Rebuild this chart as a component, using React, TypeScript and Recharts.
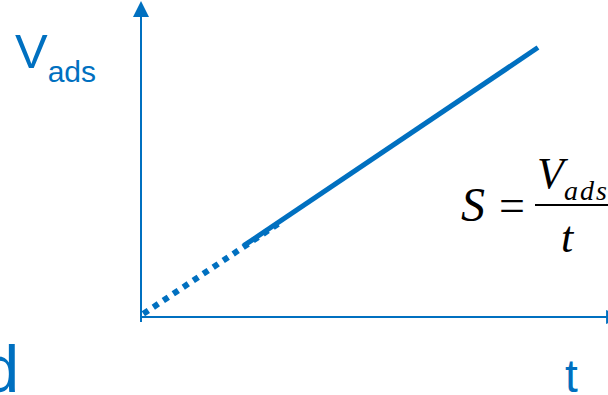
import React from "react";
import { LineChart, Line, XAxis, YAxis, ReferenceLine, ReferenceDot, Customized } from "recharts";

// readings (t and Vads in arbitrary units)
const DOTTED_T = [0.05, 3.0];
const DOTTED_V = [0.1, 3.0];
const SOLID_T = [2.2, 8.5];
const SOLID_V = [2.25, 8.5];

const BLUE = "#0070c0";
const SANS = "'Liberation Sans', Arial, sans-serif";
const SERIF = "'Liberation Serif', 'Times New Roman', serif";

const dottedData = DOTTED_T.map((t, i) => ({ t, v: DOTTED_V[i] }));
const solidData = SOLID_T.map((t, i) => ({ t, v: SOLID_V[i] }));

const UpArrow = (props: any) => {
  const { cx, cy } = props;
  return <polygon points={`${cx},${cy - 8} ${cx - 8},${cy + 8} ${cx + 8},${cy + 8}`} fill={BLUE} />;
};

const RightArrow = (props: any) => {
  const { cx, cy } = props;
  return <polygon points={`${cx - 8},${cy - 7} ${cx + 8},${cy} ${cx - 8},${cy + 7}`} fill={BLUE} />;
};

const Annotations = () => (
  <g>
    <text x={15} y={68} fill={BLUE} fontFamily={SANS} fontSize={49}>
      V<tspan fontSize={30} dy={14}>ads</tspan>
    </text>
    <text x={565} y={392} fill={BLUE} fontFamily={SANS} fontSize={46}>t</text>
    <text x={-18} y={392} fill={BLUE} fontFamily={SANS} fontSize={67}>d</text>
    <g fontFamily={SERIF} fill="#000">
      <text x={461} y={221} fontSize={48} fontStyle="italic">S</text>
      <text x={499} y={221} fontSize={46}>=</text>
      <text x={537} y={188} fontSize={44} fontStyle="italic">
        V<tspan fontSize={28} dy={12} letterSpacing={2}>ads</tspan>
      </text>
      <line x1={535} y1={205} x2={608} y2={205} stroke="#000" strokeWidth={2} />
      <text x={561} y={252} fontSize={44} fontStyle="italic">t</text>
    </g>
  </g>
);

export default function App() {
  return (
    <div style={{ position: "absolute", left: 0, top: 0, width: 608, height: 395, background: "#fff" }}>
      <LineChart width={608} height={395} margin={{ top: 0, right: 0, bottom: 78, left: 141 }}>
        <XAxis type="number" dataKey="t" domain={[0, 10]} hide allowDataOverflow />
        <YAxis type="number" dataKey="v" domain={[0, 10]} hide allowDataOverflow />
        <ReferenceLine segment={[{ x: 0, y: -0.16 }, { x: 0, y: 9.5 }]} stroke={BLUE} strokeWidth={2} ifOverflow="visible" />
        <ReferenceLine segment={[{ x: 0, y: 0 }, { x: 10, y: 0 }]} stroke={BLUE} strokeWidth={2} ifOverflow="visible" />
        <ReferenceDot x={0} y={9.72} shape={UpArrow} ifOverflow="visible" />
        <ReferenceDot x={10.13} y={0} shape={RightArrow} ifOverflow="visible" />
        <Line data={dottedData} dataKey="v" type="linear" stroke={BLUE} strokeWidth={6} strokeDasharray="6 6" dot={false} isAnimationActive={false} />
        <Line data={solidData} dataKey="v" type="linear" stroke={BLUE} strokeWidth={5} dot={false} isAnimationActive={false} />
        <Customized component={Annotations} />
      </LineChart>
    </div>
  );
}
